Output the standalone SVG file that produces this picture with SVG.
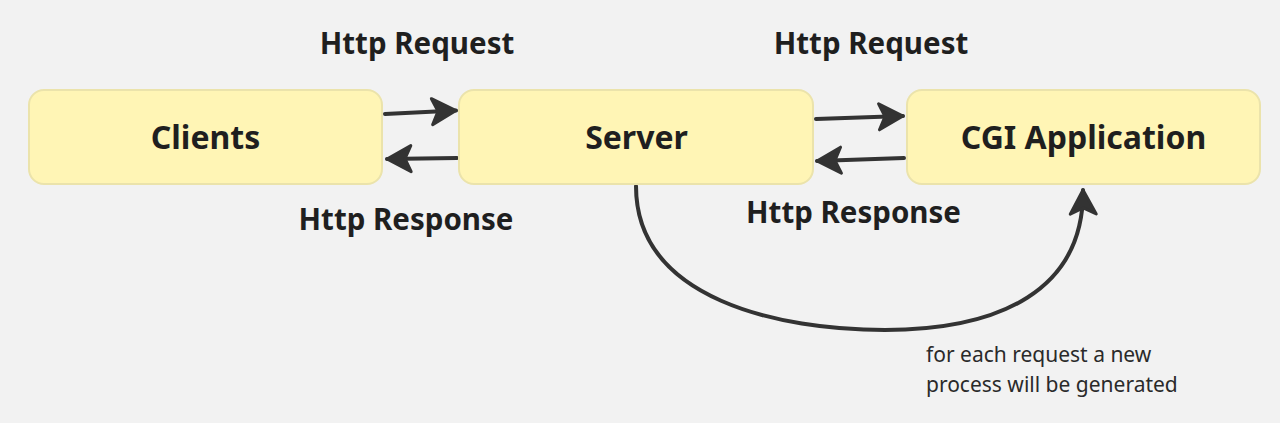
<svg xmlns="http://www.w3.org/2000/svg" width="1280" height="423" viewBox="0 0 1280 423">
<style>
.node rect{fill:#fff5b5;stroke:#ebe3ab;stroke-width:2}
.node text{font-family:"Noto Sans",sans-serif;font-weight:700;font-size:32px;fill:#1f1f1f;text-anchor:middle}
.lbl{font-family:"Noto Sans",sans-serif;font-weight:700;font-size:29.5px;fill:#1f1f1f;text-anchor:middle}
.note{font-family:"Noto Sans",sans-serif;font-size:21px;fill:#2a2a2a}
.edge{fill:none;stroke:#333333;stroke-width:4;stroke-linecap:round}
</style>
<defs>
<marker id="ah" markerUnits="userSpaceOnUse" markerWidth="40" markerHeight="40" viewBox="-30 -20 34 40" refX="0" refY="0" orient="auto">
<path d="M-24,-13 L0,0 L-24,13 L-18,0 Z" fill="#333333" stroke="#333333" stroke-width="3" stroke-linejoin="round"/>
</marker>
</defs>
<rect width="1280" height="423" fill="#f2f2f2"/>
<g id="edges">
<path class="edge" d="M385,114 L456,110.5" marker-end="url(#ah)"/>
<path class="edge" d="M457,158 L387,159" marker-end="url(#ah)"/>
<path class="edge" d="M816,119 L903,116" marker-end="url(#ah)"/>
<path class="edge" d="M904,158 L817,161" marker-end="url(#ah)"/>
<path class="edge" d="M636,186 C636,300 780,330 885,330 C1000,330 1084,290 1083,190" marker-end="url(#ah)"/>
</g>
<g id="clients" class="node"><rect x="29" y="90" width="353" height="94" rx="15"/><text x="205.5" y="149">Clients</text></g>
<g id="server" class="node"><rect x="459" y="90" width="354" height="94" rx="15"/><text x="636.5" y="149">Server</text></g>
<g id="cgi" class="node"><rect x="907" y="90" width="353" height="94" rx="15"/><text x="1083.5" y="149">CGI Application</text></g>
<g id="labels">
<text class="lbl" x="417" y="54">Http Request</text>
<text class="lbl" x="871" y="54">Http Request</text>
<text class="lbl" x="406" y="230">Http Response</text>
<text class="lbl" x="853.5" y="223">Http Response</text>
<text class="note" x="926" y="362">for each request a new</text>
<text class="note" x="926" y="392">process will be generated</text>
</g>
</svg>
